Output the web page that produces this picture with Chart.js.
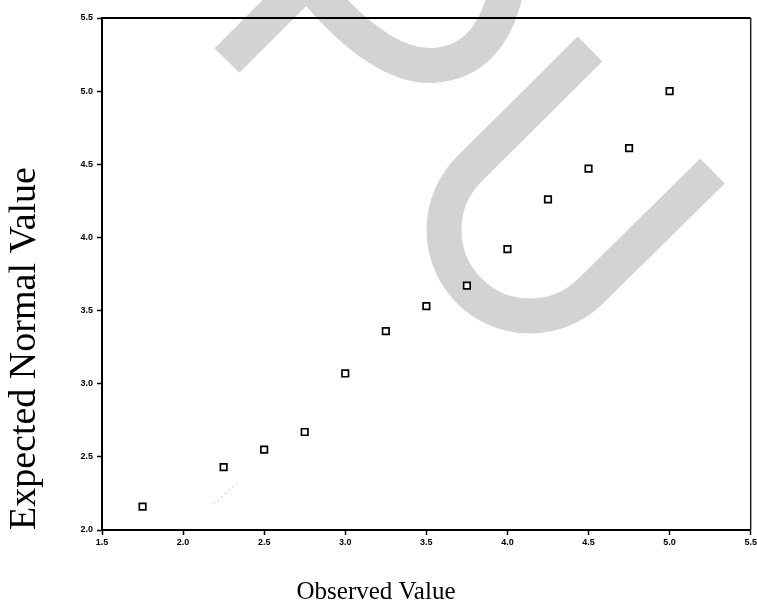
<!DOCTYPE html>
<html>
<head>
<meta charset="utf-8">
<script src="https://cdn.jsdelivr.net/npm/chart.js@4/dist/chart.umd.min.js"></script>
<style>
  html, body { margin: 0; padding: 0; background: #ffffff; }
  #wrap { width: 757px; height: 608px; }
</style>
</head>
<body>
<div id="wrap"><canvas id="c" width="757" height="608"></canvas></div>
<script>
// ---- data ----
const observedValues = [1.75, 2.25, 2.5, 2.75, 3.0, 3.25, 3.5, 3.75, 4.0, 4.25, 4.5, 4.75, 5.0];
const expectedValues = [2.16, 2.43, 2.55, 2.67, 3.07, 3.36, 3.53, 3.67, 3.92, 4.26, 4.47, 4.61, 5.0];
// faint dotted scan trace near the lower left
const traceX = [2.19, 2.33];
const traceY = [2.18, 2.32];
const xTickValues = [1.5, 2.0, 2.5, 3.0, 3.5, 4.0, 4.5, 5.0, 5.5];
const yTickValues = [2.0, 2.5, 3.0, 3.5, 4.0, 4.5, 5.0, 5.5];
const xTitle = 'Observed Value';
const yTitle = 'Expected Normal Value';

const points = observedValues.map((x, i) => ({ x: x, y: expectedValues[i] }));
const trace = traceX.map((x, i) => ({ x: x, y: traceY[i] }));

// grey watermark strokes behind the plot
const watermark = {
  id: 'watermark',
  beforeDraw(chart) {
    const ctx = chart.ctx;
    ctx.save();
    ctx.fillStyle = '#ffffff';
    ctx.fillRect(0, 0, chart.width, chart.height);
    ctx.strokeStyle = '#d3d3d3';
    ctx.lineWidth = 35;
    ctx.lineCap = 'butt';
    ctx.lineJoin = 'round';
    // straight stroke, upper left
    ctx.beginPath();
    ctx.moveTo(227, 60.5);
    ctx.lineTo(300, -12.5);
    ctx.stroke();
    // curved stroke, top
    ctx.beginPath();
    ctx.moveTo(312, -14);
    ctx.quadraticCurveTo(380, 68, 433, 65.5);
    ctx.quadraticCurveTo(492, 62, 507, -14);
    ctx.stroke();
    // U-shaped stroke
    ctx.beginPath();
    ctx.moveTo(590, 49);
    ctx.lineTo(469.2, 169.2);
    ctx.arc(530, 230, 86, Math.PI * 1.25, Math.PI * 0.25, true);
    ctx.lineTo(712.5, 171);
    ctx.stroke();
    ctx.restore();
  }
};

// top and right frame lines
const frame = {
  id: 'frame',
  beforeDatasetsDraw(chart) {
    const a = chart.chartArea;
    const ctx = chart.ctx;
    ctx.save();
    ctx.strokeStyle = '#000000';
    ctx.lineWidth = 2;
    ctx.beginPath();
    ctx.moveTo(a.left, a.top);
    ctx.lineTo(a.right, a.top);
    ctx.stroke();
    ctx.strokeStyle = '#222222';
    ctx.lineWidth = 1.5;
    ctx.beginPath();
    ctx.moveTo(a.right, a.top);
    ctx.lineTo(a.right, a.bottom);
    ctx.stroke();
    ctx.restore();
  }
};

const tickFont = { family: '"Liberation Sans", Arial, sans-serif', size: 9, weight: 'bold' };

new Chart(document.getElementById('c'), {
  type: 'scatter',
  data: {
    datasets: [
      {
        label: 'Expected',
        data: points,
        pointStyle: 'rect',
        pointRadius: 4.6,
        pointHoverRadius: 4.6,
        pointBorderWidth: 1.7,
        pointBorderColor: '#000000',
        pointBackgroundColor: '#ffffff',
        showLine: false
      },
      {
        label: 'trace',
        data: trace,
        showLine: true,
        pointRadius: 0,
        borderColor: '#9a9a9a',
        borderWidth: 1,
        borderDash: [1, 4]
      }
    ]
  },
  plugins: [watermark, frame],
  options: {
    responsive: false,
    animation: false,
    events: [],
    layout: { padding: { top: 18, right: 5, bottom: 0, left: 0 } },
    plugins: {
      legend: { display: false },
      tooltip: { enabled: false },
      title: {
        display: true,
        position: 'bottom',
        text: xTitle,
        color: '#000000',
        font: { family: '"Liberation Serif", "Times New Roman", serif', size: 25, weight: 'normal' },
        padding: { top: 0, bottom: 1 }
      }
    },
    scales: {
      x: {
        type: 'linear',
        min: 1.5,
        max: 5.5,
        afterBuildTicks(scale) { scale.ticks = xTickValues.map(v => ({ value: v })); },
        afterFit(scale) { scale.height = 47; scale.paddingLeft = 0; scale.paddingRight = 0; },
        ticks: {
          color: '#000000',
          font: tickFont,
          padding: 2,
          maxRotation: 0,
          autoSkip: false,
          callback: v => Number(v).toFixed(1)
        },
        grid: {
          drawOnChartArea: false,
          drawTicks: true,
          tickLength: 5,
          tickWidth: 1.5,
          tickColor: '#000000'
        },
        border: { display: true, color: '#000000', width: 2 }
      },
      y: {
        type: 'linear',
        min: 2.0,
        max: 5.5,
        afterBuildTicks(scale) { scale.ticks = yTickValues.map(v => ({ value: v })); },
        afterFit(scale) { scale.width = 102; scale.paddingTop = 0; scale.paddingBottom = 0; },
        title: {
          display: true,
          text: yTitle,
          align: 'start',
          color: '#000000',
          font: { family: '"Liberation Serif", "Times New Roman", serif', size: 38, weight: 'normal' },
          padding: { top: 2, bottom: 0 }
        },
        ticks: {
          color: '#000000',
          font: tickFont,
          padding: 4,
          autoSkip: false,
          callback: v => Number(v).toFixed(1)
        },
        grid: {
          drawOnChartArea: false,
          drawTicks: true,
          tickLength: 5,
          tickWidth: 1.5,
          tickColor: '#000000'
        },
        border: { display: true, color: '#000000', width: 2 }
      }
    }
  }
});
</script>
</body>
</html>
